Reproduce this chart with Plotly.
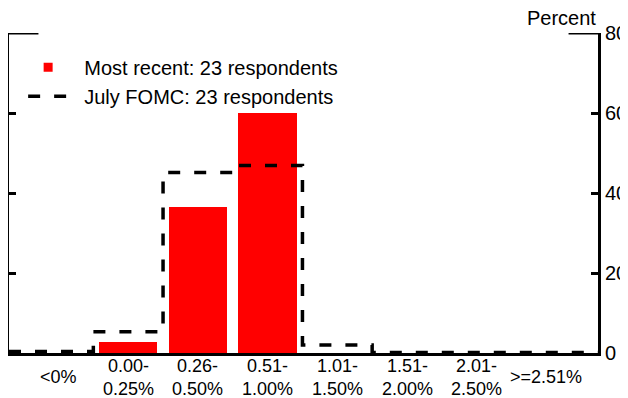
import plotly.graph_objects as go

# Ranges of the expected rate, one bar per range
categories = ["<0%", "0.00-0.25%", "0.26-0.50%", "0.51-1.00%",
              "1.01-1.50%", "1.51-2.00%", "2.01-2.50%", ">=2.51%"]
tick_labels = ["<0%", "0.00-<br>0.25%", "0.26-<br>0.50%", "0.51-<br>1.00%",
               "1.01-<br>1.50%", "1.51-<br>2.00%", "2.01-<br>2.50%", ">=2.51%"]

# Percent of respondents
most_recent = [0.0, 2.8, 36.6, 60.0, 0.0, 0.0, 0.0, 0.0]
july_fomc = [0.4, 5.3, 45.1, 46.9, 2.0, 0.1, 0.1, 0.1]

x_range = [-0.71, 7.74]
idx = list(range(len(categories)))

# Step outline for the July distribution, edges halfway between categories
step_x = [x_range[0]] + [i + 0.5 for i in idx[:-1]] + [x_range[1]]
step_y = july_fomc + [july_fomc[-1]]

font = "Liberation Sans, Arial, sans-serif"

fig = go.Figure()
fig.add_trace(go.Bar(
    x=idx,
    y=most_recent,
    width=0.84,
    marker=dict(color="#ff0000", line=dict(width=0)),
    showlegend=False,
))
# legend marker for the bars
fig.add_trace(go.Scatter(
    x=[None], y=[None],
    mode="markers",
    marker=dict(symbol="square", size=9, color="#ff0000"),
    name="\u00a0\u00a0Most recent: 23 respondents",
))
fig.add_trace(go.Scatter(
    x=step_x,
    y=step_y,
    mode="lines",
    line=dict(color="black", width=3.5, dash="12px,14px", shape="hv"),
    name="\u00a0\u00a0July FOMC: 23 respondents",
))

# top bracket ends
for x0, x1 in [(0, 0.05), (0.95, 1)]:
    fig.add_shape(type="line", xref="paper", yref="y", x0=x0, x1=x1, y0=80, y1=80,
                  line=dict(color="black", width=3))

fig.add_annotation(text="Percent", xref="paper", yref="paper", x=1.0, y=1.0,
                   xanchor="right", yanchor="middle", showarrow=False,
                   font=dict(size=20, color="black"), yshift=15)

# category labels, centred vertically under the axis
for i, lab in zip(idx, tick_labels):
    fig.add_annotation(text=lab, x=i, xref="x", yref="paper", y=0,
                       yanchor="middle", yshift=-24, showarrow=False,
                       font=dict(size=18, color="black"))

# page body adds 8px, so the figure is a little smaller than the window
fig.update_layout(
    width=620,
    height=390,
    margin=dict(l=1, r=30, t=25, b=45),
    plot_bgcolor="white",
    paper_bgcolor="white",
    font=dict(family=font, color="black"),
    bargap=0,
    legend=dict(x=0.024, y=0.954, xanchor="left", yanchor="top",
                font=dict(size=20), itemwidth=40, tracegroupgap=0,
                bgcolor="rgba(0,0,0,0)"),
    xaxis=dict(
        range=x_range,
        tickvals=idx,
        showticklabels=False,
        showgrid=False,
        zeroline=False,
        showline=True,
        linecolor="black",
        linewidth=3,
        ticks="",
        automargin=False,
    ),
    yaxis=dict(
        range=[0, 80],
        tickvals=[0, 20, 40, 60, 80],
        side="right",
        showgrid=False,
        zeroline=False,
        showline=True,
        mirror="ticks",
        linecolor="black",
        linewidth=3,
        ticks="inside",
        ticklen=7,
        tickwidth=3,
        tickcolor="black",
        tickfont=dict(size=20),
        automargin=False,
    ),
)

fig.write_html("out.html")
